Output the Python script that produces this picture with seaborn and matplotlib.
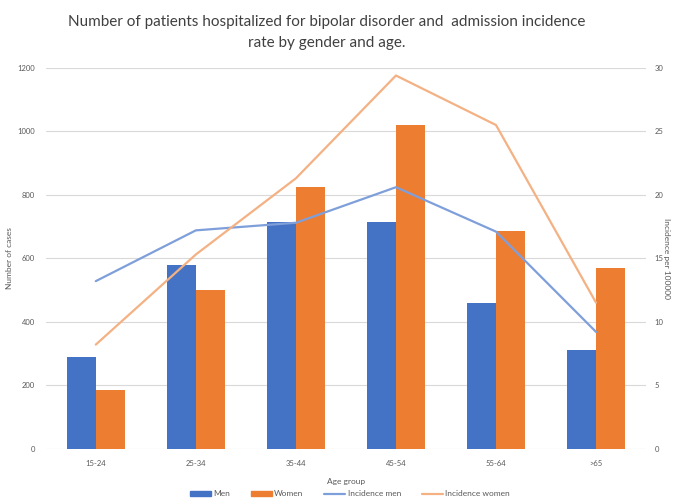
import numpy as np
import pandas as pd
import matplotlib.pyplot as plt
import seaborn as sns
from matplotlib.patches import Patch
from matplotlib.lines import Line2D

# data
age_groups = ['15-24', '25-34', '35-44', '45-54', '55-64', '>65']
cases_men = [289, 578, 713, 713, 459, 310]
cases_women = [186, 499, 824, 1020, 687, 570]
incidence_men = [13.2, 17.2, 17.8, 20.6, 17.1, 9.2]
incidence_women = [8.2, 15.3, 21.3, 29.4, 25.5, 11.5]

BLUE = '#4472C4'
ORANGE = '#ED7D31'
BLUE_LINE = '#7F9FDB'
ORANGE_LINE = '#F4B183'
GREY = '#595959'

sns.set_theme(style='white')
plt.rcParams['font.family'] = ['Lato', 'DejaVu Sans']

bars = pd.DataFrame({
    'age': age_groups * 2,
    'cases': cases_men + cases_women,
    'sex': ['Men'] * len(age_groups) + ['Women'] * len(age_groups),
})

fig = plt.figure(figsize=(6.73, 5.03), dpi=100)
ax = fig.add_axes([0.068, 0.108, 0.892, 0.757])

sns.barplot(data=bars, x='age', y='cases', hue='sex',
            palette={'Men': BLUE, 'Women': ORANGE}, saturation=1,
            width=0.58, gap=0, linewidth=0, ax=ax, legend=False)
ax.set_xlim(-0.5, len(age_groups) - 0.5)
ax.set_ylim(0, 1200)
ax.set_yticks(np.arange(0, 1201, 200))
ax.yaxis.grid(True, color='#D9D9D9', linewidth=0.8)
ax.set_axisbelow(True)
for s in ax.spines.values():
    s.set_visible(False)
ax.tick_params(axis='both', length=0, labelsize=5.5, colors=GREY, pad=8)
ax.set_xlabel('Age group', fontsize=6, color=GREY, labelpad=8)
ax.set_ylabel('Number of cases', fontsize=6, color=GREY)
ax.yaxis.set_label_coords(-0.055, 0.5)

ax2 = ax.twinx()
xpos = np.arange(len(age_groups))
sns.lineplot(x=xpos, y=incidence_men, color=BLUE_LINE, linewidth=1.6, ax=ax2)
sns.lineplot(x=xpos, y=incidence_women, color=ORANGE_LINE, linewidth=1.6, ax=ax2)
ax2.set_ylim(0, 30)
ax2.set_yticks(np.arange(0, 31, 5))
for s in ax2.spines.values():
    s.set_visible(False)
ax2.tick_params(axis='y', length=0, labelsize=5.5, colors=GREY, pad=6)
ax2.set_ylabel('Incidence per 100000', fontsize=6, color=GREY, rotation=270,
               va='center')
ax2.yaxis.set_label_coords(1.034, 0.5)

fig.suptitle('Number of patients hospitalized for bipolar disorder and  admission incidence\nrate by gender and age.',
             x=0.485, y=0.97, fontsize=11, color='#404040', linespacing=1.65)

handles = [
    Patch(color=BLUE, label='Men'),
    Patch(color=ORANGE, label='Women'),
    Line2D([], [], color=BLUE_LINE, linewidth=1.6, label='Incidence men'),
    Line2D([], [], color=ORANGE_LINE, linewidth=1.6, label='Incidence women'),
]
fig.legend(handles=handles, loc='center', bbox_to_anchor=(0.52, 0.018), ncol=4,
           frameon=False, fontsize=6, labelcolor=GREY, handlelength=2.5,
           handleheight=0.5, columnspacing=2.5, handletextpad=0.3)

fig.savefig('out.png', dpi=100)
